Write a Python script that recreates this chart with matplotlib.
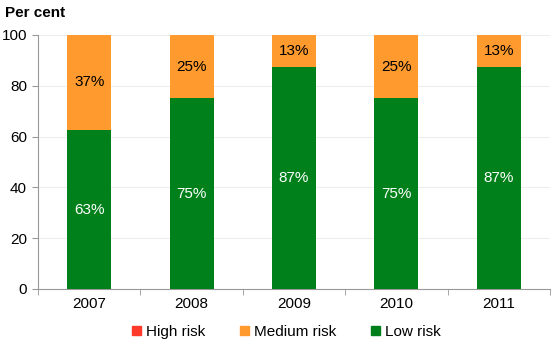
import matplotlib.pyplot as plt
import numpy as np
from matplotlib.patches import Patch

years = ["2007", "2008", "2009", "2010", "2011"]
high_risk = [0, 0, 0, 0, 0]
medium_risk = [37.5, 25, 12.5, 25, 12.5]
low_risk = [62.5, 75, 87.5, 75, 87.5]
medium_labels = ["37%", "25%", "13%", "25%", "13%"]
low_labels = ["63%", "75%", "87%", "75%", "87%"]

RED = "#FF3A2A"
ORANGE = "#FF9A2E"
GREEN = "#00801A"

plt.rcParams["font.family"] = ["Liberation Sans", "DejaVu Sans"]
FS = 11

fig = plt.figure(figsize=(5.59, 3.52), dpi=100)
ax = fig.add_axes([0.068, 0.179, 0.916, 0.722])

x = np.arange(len(years))
w = 0.43
ax.bar(x, low_risk, w, color=GREEN, zorder=3)
ax.bar(x, medium_risk, w, bottom=low_risk, color=ORANGE, zorder=3)
ax.bar(x, high_risk, w, bottom=np.add(low_risk, medium_risk), color=RED, zorder=3)

for i in range(len(years)):
    ax.text(x[i], low_risk[i] / 2, low_labels[i], ha="center", va="center",
            color="white", fontsize=FS, zorder=4)
    ax.text(x[i], low_risk[i] + medium_risk[i] / 2, medium_labels[i],
            ha="center", va="center", color="black", fontsize=FS, zorder=4)

ax.set_xlim(-0.5, len(years) - 0.5)
ax.set_ylim(0, 100)
ax.set_yticks(range(0, 101, 20))
ax.set_xticks(x)
ax.set_xticklabels(years)
ax.set_xticks(np.arange(-0.5, len(years), 1), minor=True)
ax.tick_params(axis="x", which="major", length=0, labelsize=FS, pad=6)
ax.tick_params(axis="x", which="minor", length=4, color="#999999")
ax.tick_params(axis="y", length=4, color="#999999", labelsize=FS, pad=4)
ax.yaxis.grid(True, color="#EEEEEE", linewidth=0.8, zorder=0)

for side in ["top", "right"]:
    ax.spines[side].set_visible(False)
for side in ["left", "bottom"]:
    ax.spines[side].set_color("#999999")
    ax.spines[side].set_linewidth(0.8)

fig.text(0.009, 0.962, "Per cent", fontsize=FS, fontweight="bold", va="center")

handles = [Patch(color=RED, label="High risk"),
           Patch(color=ORANGE, label="Medium risk"),
           Patch(color=GREEN, label="Low risk")]
fig.legend(handles=handles, loc="center", bbox_to_anchor=(0.512, 0.057), ncol=3,
           frameon=False, fontsize=FS, handlelength=0.6, handleheight=0.6,
           handletextpad=0.3, columnspacing=2.3)

fig.savefig("out.png", dpi=100)
